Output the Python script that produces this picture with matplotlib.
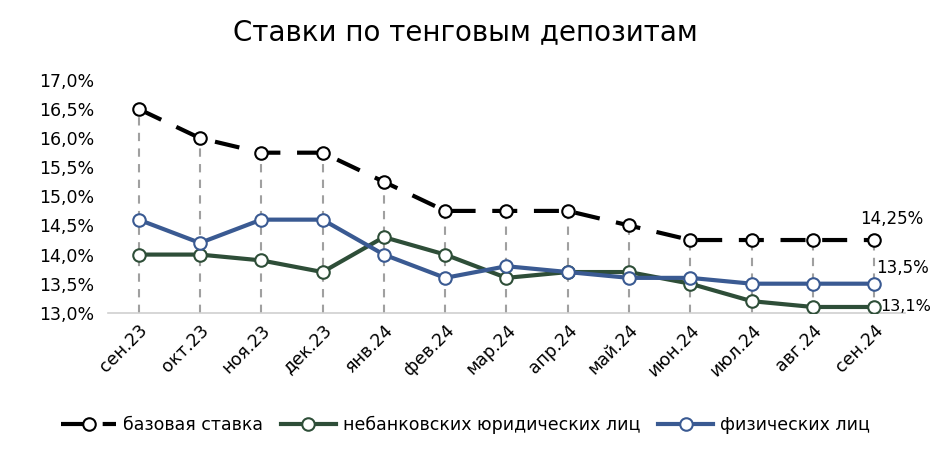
import matplotlib.pyplot as plt
from matplotlib.ticker import FuncFormatter

months = ['сен.23', 'окт.23', 'ноя.23', 'дек.23', 'янв.24', 'фев.24', 'мар.24',
          'апр.24', 'май.24', 'июн.24', 'июл.24', 'авг.24', 'сен.24']
base_rate = [16.5, 16.0, 15.75, 15.75, 15.25, 14.75, 14.75, 14.75, 14.5, 14.25, 14.25, 14.25, 14.25]
legal = [14.0, 14.0, 13.9, 13.7, 14.3, 14.0, 13.6, 13.7, 13.7, 13.5, 13.2, 13.1, 13.1]
persons = [14.6, 14.2, 14.6, 14.6, 14.0, 13.6, 13.8, 13.7, 13.6, 13.6, 13.5, 13.5, 13.5]
end_labels = ['14,25%', '13,1%', '13,5%']

plt.rcParams['font.family'] = 'DejaVu Sans'

fig = plt.figure(figsize=(9.31, 4.54), dpi=100)
ax = fig.add_axes([0.116, 0.311, 0.856, 0.513])

x = list(range(len(months)))

# вертикальные пунктирные линии от базовой ставки
ax.vlines(x, 13.0, base_rate, colors='#a0a0a0', linestyles=(0, (4, 3.5)), linewidth=1.5, zorder=1)

mk = dict(marker='o', markersize=9, markerfacecolor='white', markeredgewidth=1.5)
ax.plot(x, base_rate, color='black', linewidth=3, dashes=(6, 4), markeredgecolor='black',
        label='базовая ставка', zorder=3, **mk)
ax.plot(x, legal, color='#2e4e38', linewidth=3, markeredgecolor='#2e4e38',
        label='небанковских юридических лиц', zorder=4, **mk)
ax.plot(x, persons, color='#3a5a92', linewidth=3, markeredgecolor='#3a5a92',
        label='физических лиц', zorder=5, **mk)

last = len(months) - 1
ax.annotate(end_labels[0], (last, base_rate[-1]), xytext=(-10, 15), textcoords='offset points',
            fontsize=12, ha='left', va='center')
ax.annotate(end_labels[1], (last, legal[-1]), xytext=(4, 0), textcoords='offset points',
            fontsize=11.5, ha='left', va='center')
ax.annotate(end_labels[2], (last, persons[-1]), xytext=(1, 11), textcoords='offset points',
            fontsize=12, ha='left', va='center')

ax.set_xlim(-0.5, len(months) - 0.5)
ax.set_ylim(13.0, 17.0)
ax.set_yticks([13.0 + 0.5 * i for i in range(9)])
ax.yaxis.set_major_formatter(FuncFormatter(lambda v, p: f'{v:.1f}%'.replace('.', ',')))
ax.set_xticks(x)
ax.set_xticklabels(months, rotation=45, ha='right', rotation_mode='anchor', fontsize=12.5)
ax.tick_params(axis='y', labelsize=12.5, length=0, pad=10)
ax.tick_params(axis='x', length=0, pad=6)

for s in ['top', 'right', 'left']:
    ax.spines[s].set_visible(False)
ax.spines['bottom'].set_color('#d0d0d0')
ax.spines['bottom'].set_linewidth(1.2)

fig.suptitle('Ставки по тенговым депозитам', fontsize=20, y=0.96)

fig.legend(loc='lower center', bbox_to_anchor=(0.5, 0.01), ncol=3, frameon=False,
           fontsize=12.5, handlelength=3.2, columnspacing=1.0, handletextpad=0.4)

fig.savefig('out.png', dpi=100)
